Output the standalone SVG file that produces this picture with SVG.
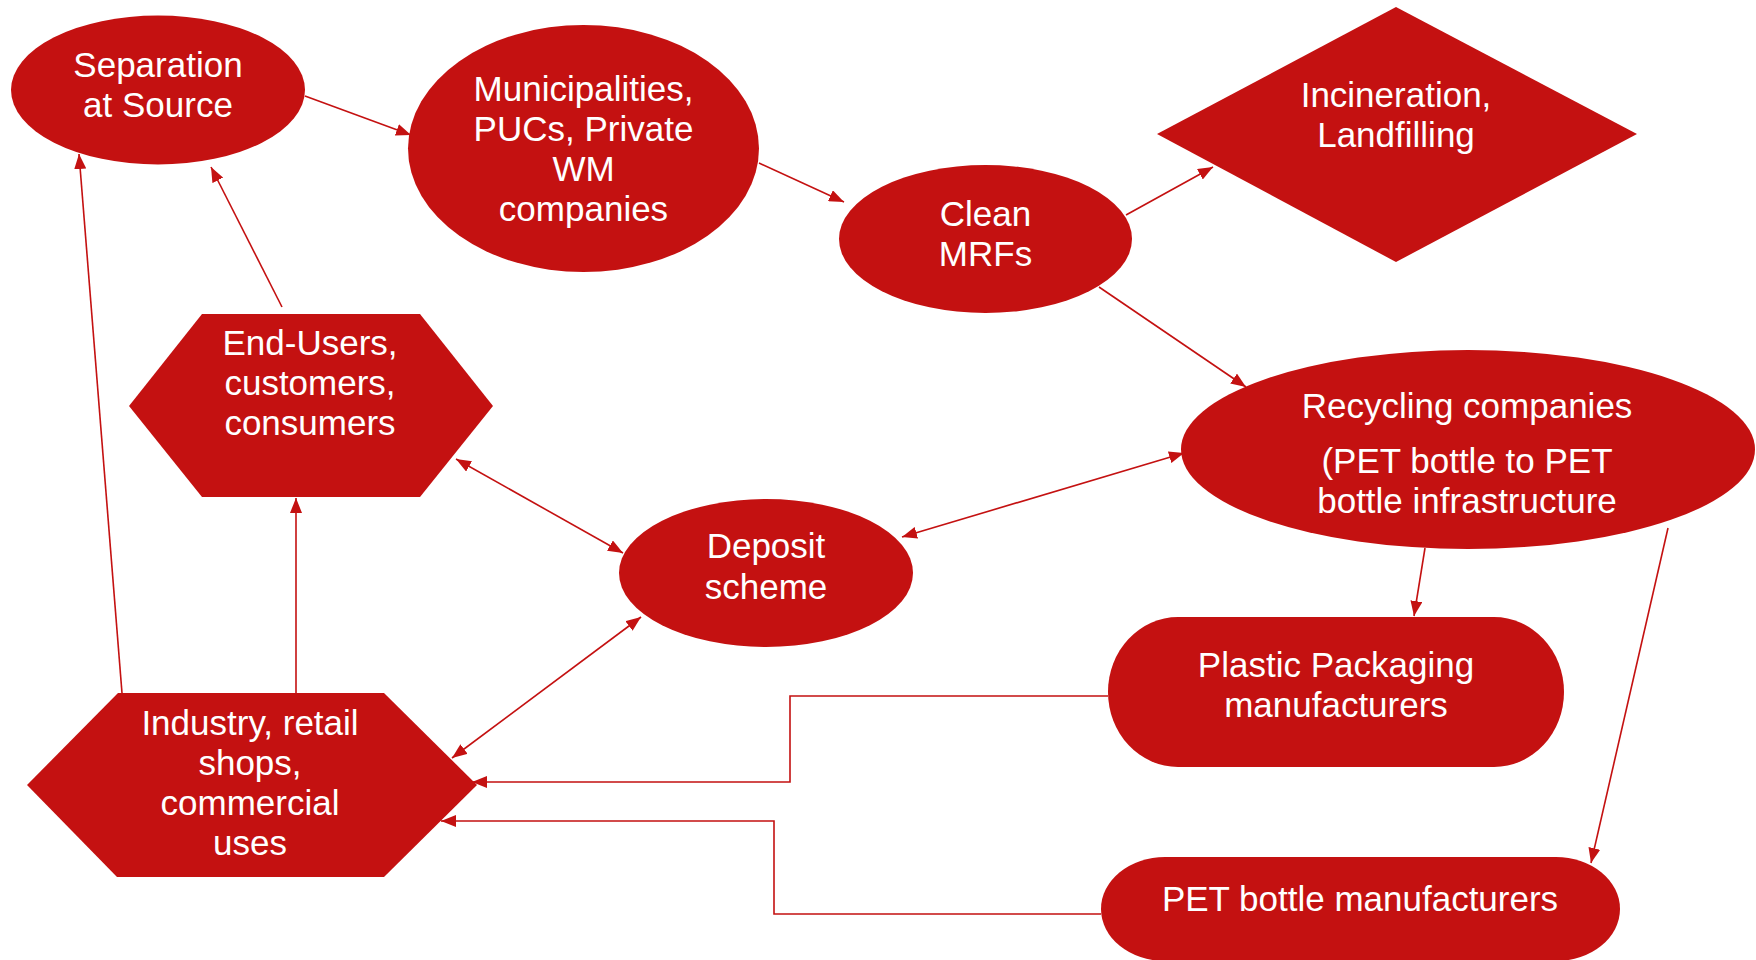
<svg xmlns="http://www.w3.org/2000/svg" width="1756" height="960" viewBox="0 0 1756 960">
  <style>
    .node { fill: #C41111; }
    .label { fill: #FFFFFF; font-family: "Liberation Sans", Arial, sans-serif; font-size: 35px; text-anchor: middle; }
    .edge { fill: none; stroke: #C41111; stroke-width: 1.6; }
  </style>
  <defs>
    <marker id="arrow" markerUnits="userSpaceOnUse" markerWidth="16" markerHeight="12" refX="15" refY="6" orient="auto-start-reverse">
      <path d="M0,0 L15,6 L0,12 z" fill="#C41111"/>
    </marker>
  </defs>

  <rect width="1756" height="960" fill="#FFFFFF"/>

  <!-- connectors -->
  <g id="connectors">
    <line class="edge" x1="305" y1="96" x2="411" y2="135" marker-end="url(#arrow)"/>
    <line class="edge" x1="759" y1="163" x2="844" y2="202" marker-end="url(#arrow)"/>
    <line class="edge" x1="1126" y1="215" x2="1213" y2="167" marker-end="url(#arrow)"/>
    <line class="edge" x1="1099" y1="287" x2="1246" y2="387" marker-end="url(#arrow)"/>
    <line class="edge" x1="282" y1="307" x2="211" y2="167" marker-end="url(#arrow)"/>
    <line class="edge" x1="122" y1="693" x2="79" y2="154" marker-end="url(#arrow)"/>
    <line class="edge" x1="296" y1="693" x2="296" y2="498" marker-end="url(#arrow)"/>
    <line class="edge" x1="456" y1="459" x2="623" y2="553" marker-start="url(#arrow)" marker-end="url(#arrow)"/>
    <line class="edge" x1="902" y1="537" x2="1184" y2="453" marker-start="url(#arrow)" marker-end="url(#arrow)"/>
    <line class="edge" x1="641" y1="617" x2="452" y2="758" marker-start="url(#arrow)" marker-end="url(#arrow)"/>
    <line class="edge" x1="1425" y1="548" x2="1414" y2="616" marker-end="url(#arrow)"/>
    <line class="edge" x1="1668" y1="528" x2="1591" y2="863" marker-end="url(#arrow)"/>
    <polyline class="edge" points="1108,696 790,696 790,782 472,782" marker-end="url(#arrow)"/>
    <polyline class="edge" points="1101,914 774,914 774,821 441,821" marker-end="url(#arrow)"/>
  </g>

  <!-- nodes -->
  <g id="separation-at-source">
    <ellipse class="node" cx="158" cy="90" rx="147" ry="74.5"/>
    <text class="label" x="158" y="77">Separation</text>
    <text class="label" x="158" y="117">at Source</text>
  </g>

  <g id="municipalities">
    <ellipse class="node" cx="583.5" cy="148.5" rx="175.5" ry="123.5"/>
    <text class="label" x="583.5" y="101">Municipalities,</text>
    <text class="label" x="583.5" y="141">PUCs, Private</text>
    <text class="label" x="583.5" y="181">WM</text>
    <text class="label" x="583.5" y="221">companies</text>
  </g>

  <g id="clean-mrfs">
    <ellipse class="node" cx="985.5" cy="239" rx="146.5" ry="74"/>
    <text class="label" x="985.5" y="226">Clean</text>
    <text class="label" x="985.5" y="266">MRFs</text>
  </g>

  <g id="incineration-landfilling">
    <polygon class="node" points="1396,7 1637,134 1396,262 1157,134"/>
    <text class="label" x="1396" y="107">Incineration,</text>
    <text class="label" x="1396" y="147">Landfilling</text>
  </g>

  <g id="end-users">
    <polygon class="node" points="202,314 420,314 493,406 420,497 202,497 129,406"/>
    <text class="label" x="310" y="355">End-Users,</text>
    <text class="label" x="310" y="395">customers,</text>
    <text class="label" x="310" y="435">consumers</text>
  </g>

  <g id="deposit-scheme">
    <ellipse class="node" cx="766" cy="573" rx="147" ry="74"/>
    <text class="label" x="766" y="558">Deposit</text>
    <text class="label" x="766" y="599">scheme</text>
  </g>

  <g id="recycling-companies">
    <ellipse class="node" cx="1468" cy="449.5" rx="287" ry="99.5"/>
    <text class="label" x="1467" y="418">Recycling companies</text>
    <text class="label" x="1467" y="473">(PET bottle to PET</text>
    <text class="label" x="1467" y="513">bottle infrastructure</text>
  </g>

  <g id="plastic-packaging">
    <rect class="node" x="1108" y="617" width="456" height="150" rx="70" ry="75"/>
    <text class="label" x="1336" y="677">Plastic Packaging</text>
    <text class="label" x="1336" y="717">manufacturers</text>
  </g>

  <g id="pet-bottle-manufacturers">
    <rect class="node" x="1101" y="857" width="519" height="104" rx="64" ry="52"/>
    <text class="label" x="1360" y="911">PET bottle manufacturers</text>
  </g>

  <g id="industry-retail">
    <polygon class="node" points="118,693 384,693 477,785 384,877 117,877 27,785"/>
    <text class="label" x="250" y="735">Industry, retail</text>
    <text class="label" x="250" y="775">shops,</text>
    <text class="label" x="250" y="815">commercial</text>
    <text class="label" x="250" y="855">uses</text>
  </g>
</svg>
